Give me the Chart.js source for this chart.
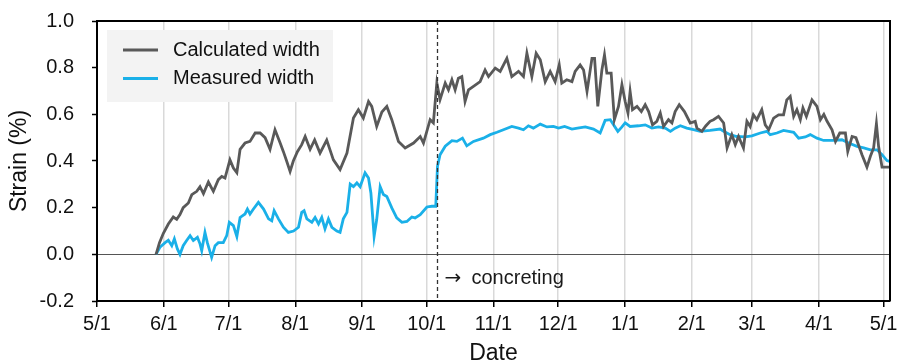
<!DOCTYPE html>
<html>
<head>
<meta charset="utf-8">
<script src="https://cdn.jsdelivr.net/npm/chart.js@4"></script>
<style>
  html, body { margin: 0; padding: 0; background: #ffffff; }
  #c { display: block; }
</style>
</head>
<body>
<canvas id="c" width="899" height="362"></canvas>
<script>
// ---- data (x = days since 5/1) ----
const monthStartDays = [0, 31, 61, 92, 123, 153, 184, 214, 245, 276, 304, 335, 365];
const xTickLabels = ["5/1","6/1","7/1","8/1","9/1","10/1","11/1","12/1","1/1","2/1","3/1","4/1","5/1"];
const yTickValues = [-0.2, 0.0, 0.2, 0.4, 0.6, 0.8, 1.0];
const concretingDay = 157.7;
const concretingArrow = "→";
const concretingText = "concreting";
const seriesLabels = ["Calculated width", "Measured width"];

const calcDays = [27.4,29,30.8,33.1,35.4,37,38.5,40,42.4,44,46.3,47.8,49.4,51.7,54,56.3,57.9,59.4,61.7,63.3,64.9,66.4,68.7,71,73.4,75.7,78,80.3,82.6,85,86.5,88,89.6,91.1,93,95,96.6,98.9,101,103.5,106.6,109.7,112.8,116,119,121.3,123.6,126,127.5,129.8,132.2,134.5,136.8,139.9,143,146.9,150,151.5,154.6,156.1,157.7,159.2,161.6,163.1,164.7,166.2,167.7,169.3,170.8,172.4,174.7,177.8,180.1,181.7,184.8,187.1,190.2,192.5,195.6,197.9,199.5,201.8,203.8,205.7,208,210.3,212.6,214.5,215.7,218,220.4,221.9,224.2,225.8,227.4,229.7,230.9,232.4,234.3,235.5,236.6,238.6,240.1,242,243.6,245.1,246.4,247.4,248.5,250.6,252.6,254.4,256,257.8,259.8,261.4,262.9,265.2,266.8,268.3,270.2,272.6,275.3,277.6,278.4,280.7,282.5,284.5,286.1,288.4,290.8,292.4,294.6,296.2,297.7,300,301.6,303.1,304.6,306.2,308.5,310.1,311.7,314,316.3,318.6,320.1,321.7,323.3,324.8,326.4,327.6,329.2,331.8,334.1,335.7,337.3,338.8,341.1,342.7,344.7,347.3,348.4,350.4,352.2,355,357.3,358.9,360.4,361.7,362.7,364.3,368.5];
const calcVals = [0,0.05,0.09,0.13,0.16,0.15,0.17,0.20,0.22,0.256,0.27,0.29,0.26,0.31,0.27,0.32,0.334,0.327,0.405,0.37,0.35,0.45,0.477,0.484,0.52,0.52,0.50,0.45,0.534,0.477,0.44,0.40,0.355,0.40,0.44,0.47,0.505,0.45,0.49,0.434,0.49,0.405,0.363,0.434,0.584,0.62,0.584,0.655,0.634,0.548,0.61,0.634,0.577,0.484,0.456,0.477,0.505,0.477,0.577,0.563,0.734,0.663,0.734,0.705,0.748,0.705,0.755,0.762,0.655,0.705,0.72,0.74,0.79,0.762,0.798,0.784,0.84,0.762,0.784,0.762,0.862,0.762,0.862,0.834,0.74,0.784,0.74,0.812,0.734,0.748,0.74,0.784,0.812,0.79,0.698,0.84,0.84,0.634,0.79,0.855,0.777,0.777,0.577,0.634,0.727,0.655,0.606,0.698,0.62,0.634,0.612,0.641,0.612,0.555,0.57,0.606,0.548,0.577,0.563,0.612,0.641,0.612,0.563,0.57,0.541,0.527,0.55,0.57,0.577,0.591,0.563,0.456,0.513,0.47,0.505,0.456,0.57,0.548,0.598,0.577,0.62,0.555,0.534,0.584,0.598,0.598,0.662,0.677,0.591,0.62,0.577,0.627,0.591,0.662,0.634,0.577,0.60,0.57,0.534,0.484,0.52,0.52,0.441,0.505,0.50,0.427,0.374,0.42,0.456,0.56,0.463,0.374,0.374];

const measDays = [27.4,29.2,31.6,33.1,34.7,35.9,37.3,38.5,40,41.6,43.2,44.7,46.6,47.8,48.6,50.1,51.2,53.2,54.8,56.3,58.6,60.2,61.4,63.3,64.9,66.4,68.7,69.8,71,72.6,74.9,77.3,79.6,81.1,82.2,84.2,86.5,88.8,91.2,93.5,95,96.1,97.4,99.7,101.2,102.8,104.3,105.8,107.4,109,111.3,112.8,114.3,116,117.5,119,120.6,122.1,124.4,126,127.1,128.6,129.8,131.4,132.9,134.5,136.8,139.1,141.5,143.8,146.1,147.6,150,153.1,155.4,157.2,158,159.2,161.6,164.7,167,169.6,171.6,174.7,179.3,182.5,185.6,188.6,192.5,195.6,197.9,200.2,202.5,205.7,208.8,211.8,214.2,217,220.4,223,226.6,230.4,233.5,235.8,238.2,239.7,241.7,243.6,245.1,247.4,251.3,254.4,257.5,260.6,263.7,266.1,268.3,270.7,273.7,276.8,279.9,284.5,289.2,290.8,293.8,296.9,300.8,303.9,307.8,310.9,312.4,315.5,318.6,321,323.3,325.6,328.7,331,334.1,337.2,341.8,345.7,348.8,352.7,355.8,358.9,362,364.3,366.6,368.5];
const measVals = [0,0.03,0.05,0.06,0.037,0.066,0.023,0,0.037,0.059,0.08,0.059,0.073,0.045,0.016,0.094,0.05,-0.013,0.037,0.05,0.05,0.08,0.137,0.123,0.076,0.158,0.173,0.194,0.173,0.194,0.223,0.194,0.152,0.144,0.187,0.152,0.116,0.094,0.1,0.116,0.18,0.187,0.152,0.137,0.158,0.13,0.158,0.109,0.152,0.116,0.1,0.094,0.152,0.18,0.301,0.29,0.306,0.29,0.349,0.327,0.263,0.077,0.149,0.29,0.256,0.248,0.199,0.156,0.137,0.141,0.16,0.156,0.17,0.203,0.206,0.206,0.377,0.427,0.463,0.487,0.484,0.498,0.465,0.484,0.498,0.513,0.523,0.534,0.548,0.541,0.534,0.551,0.541,0.558,0.546,0.548,0.541,0.548,0.537,0.541,0.546,0.537,0.52,0.574,0.577,0.555,0.527,0.546,0.563,0.548,0.551,0.555,0.541,0.546,0.541,0.527,0.541,0.551,0.541,0.534,0.527,0.531,0.537,0.527,0.513,0.505,0.503,0.508,0.52,0.527,0.513,0.52,0.531,0.527,0.523,0.498,0.503,0.513,0.498,0.488,0.488,0.491,0.477,0.463,0.456,0.448,0.448,0.427,0.402,0.396];

const FONT = '"Liberation Sans", Arial, Helvetica, sans-serif';
const calcColor = '#595959';
const measColor = '#1ab0e8';

const decor = {
  id: 'decor',
  afterDatasetsDraw(chart) {
    const { ctx, chartArea: a, scales: { x, y } } = chart;
    ctx.save();
    // top & right frame
    ctx.strokeStyle = '#000';
    ctx.lineWidth = 2;
    ctx.beginPath();
    ctx.moveTo(a.left, a.top);
    ctx.lineTo(a.right, a.top);
    ctx.lineTo(a.right, a.bottom);
    ctx.stroke();
    // concreting dashed line
    const px = Math.round(x.getPixelForValue(concretingDay)) + 0.5;
    ctx.strokeStyle = '#333';
    ctx.lineWidth = 1.3;
    ctx.setLineDash([4, 3]);
    ctx.beginPath();
    ctx.moveTo(px, a.top);
    ctx.lineTo(px, a.bottom);
    ctx.stroke();
    ctx.setLineDash([]);
    ctx.fillStyle = '#1a1a1a';
    ctx.textAlign = 'left';
    ctx.textBaseline = 'middle';
    const ly0 = y.getPixelForValue(-0.1) + 1;
    ctx.font = '20px "DejaVu Sans", sans-serif';
    ctx.fillText(concretingArrow, px + 7, ly0);
    ctx.font = '20px ' + FONT;
    ctx.fillText(concretingText, px + 34, ly0);
    // legend
    const bx = a.left + 10, by = a.top + 9, bw = 226, bh = 72;
    ctx.fillStyle = '#f3f3f3';
    ctx.fillRect(bx, by, bw, bh);
    const ds = chart.data.datasets;
    ds.forEach((d, i) => {
      const ly = by + 20 + i * 28.5;
      ctx.strokeStyle = d.borderColor;
      ctx.lineWidth = 2.8;
      ctx.beginPath();
      ctx.moveTo(bx + 16, ly);
      ctx.lineTo(bx + 51, ly);
      ctx.stroke();
      ctx.fillStyle = '#111';
      ctx.fillText(d.label, bx + 66, ly);
    });
    ctx.restore();
  }
};

new Chart(document.getElementById('c'), {
  type: 'line',
  data: {
    datasets: [
      {
        label: seriesLabels[0],
        data: calcDays.map((d, i) => ({ x: d, y: calcVals[i] })),
        borderColor: calcColor,
        borderWidth: 2.8,
        pointRadius: 0,
        tension: 0,
        fill: false
      },
      {
        label: seriesLabels[1],
        data: measDays.map((d, i) => ({ x: d, y: measVals[i] })),
        borderColor: measColor,
        borderWidth: 2.8,
        pointRadius: 0,
        tension: 0,
        fill: false
      }
    ]
  },
  options: {
    responsive: false,
    animation: false,
    devicePixelRatio: 1,
    layout: { padding: { top: 21, right: 9, left: 0, bottom: 0 } },
    plugins: { legend: { display: false }, tooltip: { enabled: false } },
    scales: {
      x: {
        type: 'linear',
        min: 0,
        max: 368,
        afterBuildTicks(scale) { scale.ticks = monthStartDays.map(v => ({ value: v })); },
        afterFit(scale) { scale.height = 61; scale.paddingLeft = 0; scale.paddingRight = 0; },
        ticks: {
          autoSkip: false,
          maxRotation: 0,
          padding: 5,
          color: '#111',
          font: { family: FONT, size: 20 },
          callback(value, index) { return xTickLabels[index]; }
        },
        grid: { color: '#d9d9d9', lineWidth: 1.5, tickColor: '#000', tickLength: 6, tickWidth: 1.5 },
        border: { color: '#000', width: 2 },
        title: { display: true, text: 'Date', color: '#111', font: { family: FONT, size: 23, lineHeight: 0.74 }, padding: { top: 0, bottom: 0 } }
      },
      y: {
        min: -0.2,
        max: 1.0,
        afterBuildTicks(scale) { scale.ticks = yTickValues.map(v => ({ value: v })); },
        afterFit(scale) { scale.width = 97; scale.paddingTop = 0; scale.paddingBottom = 0; },
        ticks: {
          padding: 18,
          color: '#111',
          font: { family: FONT, size: 20 },
          callback(value) { return Number(value).toFixed(1); }
        },
        grid: {
          color(ctx) { return ctx.tick && Math.abs(ctx.tick.value) < 1e-9 ? '#555' : 'rgba(0,0,0,0)'; },
          lineWidth: 1,
          tickColor: '#000',
          tickLength: 5,
          tickWidth: 1.5
        },
        border: { color: '#000', width: 2 },
        title: { display: true, text: 'Strain (%)', color: '#111', font: { family: FONT, size: 23 }, padding: { top: 6, bottom: 0 } }
      }
    }
  },
  plugins: [decor]
});
</script>
</body>
</html>
